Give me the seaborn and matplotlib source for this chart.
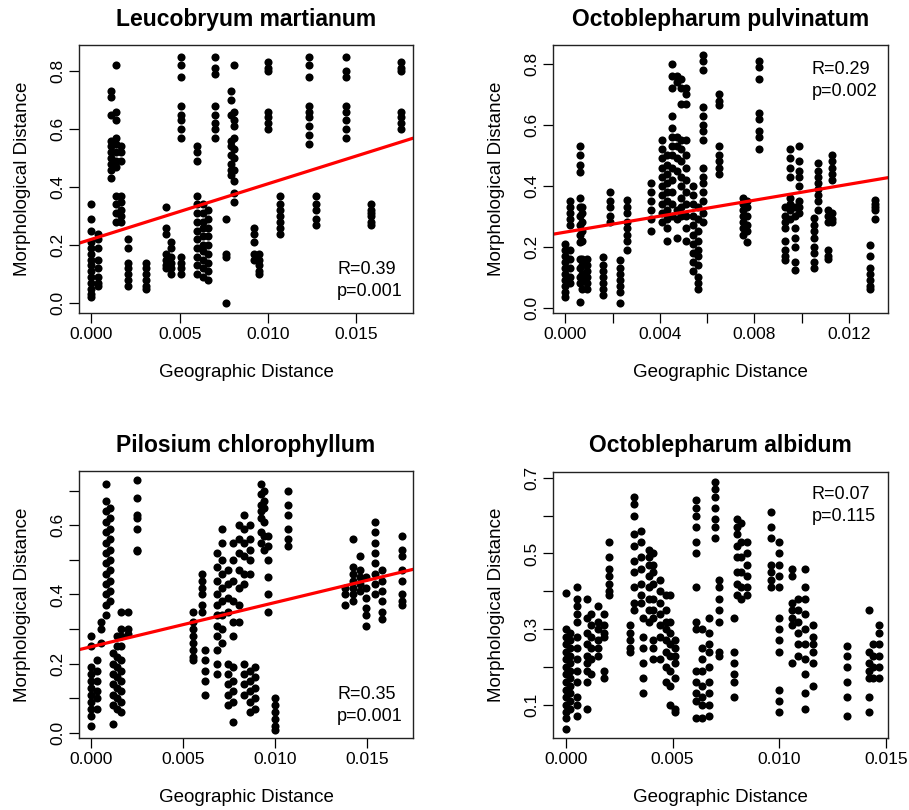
import pandas as pd
import matplotlib
matplotlib.use("Agg")
import matplotlib.pyplot as plt
import seaborn as sns

# Leucobryum martianum: geographic distance of each column, morphological distances in it
lm_geo = [0.0000, 0.0004, 0.0011, 0.0014, 0.0017, 0.0021, 0.0031, 0.0042, 0.0045,
          0.0051, 0.0060, 0.0063, 0.0066, 0.0070, 0.0076, 0.0079, 0.0081, 0.0092,
          0.0095, 0.0100, 0.0107, 0.0123, 0.0127, 0.0144, 0.0158, 0.0175]
lm_morph = [
    [0.34, 0.29, 0.25, 0.21, 0.19, 0.17, 0.15, 0.13, 0.11, 0.09, 0.07, 0.05, 0.03, 0.02],
    [0.24, 0.22, 0.19, 0.15, 0.12, 0.09, 0.07, 0.06],
    [0.73, 0.71, 0.65, 0.56, 0.54, 0.52, 0.50, 0.48, 0.46, 0.43],
    [0.82, 0.66, 0.63, 0.57, 0.55, 0.52, 0.49, 0.47, 0.37, 0.34, 0.31, 0.28],
    [0.54, 0.52, 0.49, 0.37, 0.35, 0.32, 0.30, 0.28],
    [0.22, 0.19, 0.14, 0.12, 0.10, 0.08, 0.06],
    [0.14, 0.12, 0.10, 0.08, 0.06, 0.05],
    [0.33, 0.26, 0.24, 0.17, 0.15, 0.13, 0.12],
    [0.21, 0.19, 0.16, 0.14, 0.12, 0.10],
    [0.85, 0.82, 0.78, 0.68, 0.65, 0.63, 0.60, 0.57, 0.16, 0.14, 0.12, 0.10],
    [0.54, 0.52, 0.49, 0.37, 0.34, 0.31, 0.28, 0.25, 0.22, 0.19, 0.16, 0.13, 0.10],
    [0.34, 0.31, 0.28, 0.26, 0.23, 0.20, 0.18, 0.15, 0.12, 0.09],
    [0.32, 0.29, 0.26, 0.23, 0.20, 0.17, 0.14, 0.11, 0.08],
    [0.85, 0.81, 0.79, 0.68, 0.65, 0.62, 0.60, 0.57],
    [0.29, 0.17, 0.16, 0.00],
    [0.73, 0.70, 0.65, 0.56, 0.54, 0.51, 0.48, 0.46, 0.44],
    [0.82, 0.66, 0.63, 0.61, 0.57, 0.53, 0.50, 0.46, 0.42, 0.38, 0.35],
    [0.26, 0.24, 0.21, 0.17, 0.15],
    [0.17, 0.15, 0.13, 0.11, 0.10],
    [0.83, 0.81, 0.80, 0.66, 0.64, 0.62, 0.60],
    [0.37, 0.34, 0.32, 0.30, 0.28, 0.26, 0.24],
    [0.85, 0.82, 0.78, 0.68, 0.66, 0.64, 0.61, 0.58, 0.55],
    [0.37, 0.34, 0.32, 0.29, 0.27],
    [0.85, 0.80, 0.78, 0.68, 0.66, 0.63, 0.60, 0.57],
    [0.34, 0.32, 0.31, 0.30, 0.28, 0.27],
    [0.83, 0.81, 0.80, 0.66, 0.64, 0.62, 0.60],
]

# Octoblepharum pulvinatum
op_geo = [0.0000, 0.0002, 0.0006, 0.0007, 0.0009, 0.0016, 0.0019, 0.0023, 0.0026,
          0.0036, 0.0041, 0.0043, 0.0045, 0.0047, 0.0049, 0.0051, 0.0054, 0.0056,
          0.0058, 0.0065, 0.0075, 0.0077, 0.0082, 0.0093, 0.0095, 0.0097, 0.0099,
          0.0105, 0.0107, 0.0111, 0.0113, 0.0129, 0.0131]
op_morph = [
    [0.21, 0.19, 0.17, 0.15, 0.13, 0.11, 0.09, 0.07, 0.05, 0.035],
    [0.35, 0.33, 0.31, 0.29, 0.27, 0.19, 0.16, 0.13, 0.10, 0.08],
    [0.53, 0.50, 0.47, 0.445, 0.36, 0.33, 0.30, 0.27, 0.24, 0.215, 0.16, 0.13, 0.10, 0.08, 0.02],
    [0.33, 0.31, 0.28, 0.25, 0.22, 0.16, 0.14, 0.11, 0.09, 0.06],
    [0.16, 0.14, 0.12, 0.10, 0.08, 0.06],
    [0.165, 0.14, 0.12, 0.10, 0.08, 0.06, 0.04],
    [0.38, 0.35, 0.33, 0.30, 0.28],
    [0.155, 0.13, 0.11, 0.09, 0.07, 0.05, 0.015],
    [0.355, 0.33, 0.31, 0.28, 0.26, 0.24, 0.22, 0.19],
    [0.41, 0.38, 0.35, 0.32, 0.29, 0.25],
    [0.55, 0.52, 0.49, 0.46, 0.43, 0.40, 0.37, 0.34, 0.31, 0.28],
    [0.50, 0.47, 0.44, 0.41, 0.38, 0.35, 0.32, 0.29, 0.26, 0.22],
    [0.80, 0.76, 0.72, 0.63, 0.59, 0.56, 0.53, 0.50, 0.46, 0.42, 0.38, 0.34, 0.30],
    [0.76, 0.74, 0.56, 0.53, 0.49, 0.45, 0.32, 0.29, 0.23],
    [0.75, 0.72, 0.67, 0.55, 0.52, 0.48, 0.43, 0.40, 0.36, 0.33, 0.30],
    [0.72, 0.70, 0.67, 0.55, 0.50, 0.46, 0.42, 0.38, 0.34, 0.30, 0.26, 0.22],
    [0.40, 0.37, 0.34, 0.30, 0.27, 0.24, 0.21, 0.18, 0.15, 0.12],
    [0.33, 0.29, 0.25, 0.22, 0.19, 0.17, 0.14, 0.10, 0.08, 0.06],
    [0.83, 0.81, 0.78, 0.66, 0.63, 0.60, 0.58, 0.55, 0.46, 0.43, 0.41, 0.38, 0.35, 0.31, 0.28],
    [0.70, 0.68, 0.665, 0.53, 0.50, 0.48, 0.46, 0.44],
    [0.36, 0.34, 0.32, 0.30, 0.28, 0.26, 0.24],
    [0.35, 0.33, 0.30, 0.27, 0.25, 0.215],
    [0.81, 0.79, 0.75, 0.64, 0.62, 0.58, 0.56, 0.52],
    [0.33, 0.30, 0.28, 0.26, 0.22, 0.19, 0.17, 0.155],
    [0.52, 0.49, 0.46, 0.43, 0.36, 0.34, 0.32, 0.29],
    [0.33, 0.30, 0.26, 0.23, 0.20, 0.15, 0.125],
    [0.53, 0.48, 0.45, 0.43, 0.40, 0.35, 0.33, 0.31],
    [0.295, 0.27, 0.25, 0.23, 0.20, 0.18, 0.15, 0.13],
    [0.475, 0.45, 0.43, 0.41, 0.39, 0.37, 0.35, 0.32],
    [0.32, 0.30, 0.28, 0.19, 0.17, 0.16],
    [0.50, 0.48, 0.46, 0.44, 0.42, 0.31, 0.29, 0.28],
    [0.205, 0.17, 0.13, 0.11, 0.09, 0.07, 0.06],
    [0.355, 0.34, 0.33, 0.32, 0.29],
]

# Pilosium chlorophyllum
pc_geo = [0.0000, 0.0003, 0.0005, 0.0008, 0.0010, 0.0012, 0.0014, 0.0016, 0.0020,
          0.0025, 0.0055, 0.0060, 0.0062, 0.0068, 0.0071, 0.0074, 0.0077, 0.0080,
          0.0083, 0.0086, 0.0089, 0.0092, 0.0094, 0.0096, 0.0100, 0.0107, 0.0138,
          0.0142, 0.0146, 0.0149, 0.0154, 0.0158, 0.0169]
pc_morph = [
    [0.28, 0.25, 0.19, 0.17, 0.15, 0.13, 0.11, 0.09, 0.07, 0.05, 0.02],
    [0.21, 0.18, 0.15, 0.12, 0.10, 0.07],
    [0.32, 0.30, 0.26],
    [0.72, 0.67, 0.64, 0.61, 0.58, 0.55, 0.52, 0.49, 0.46, 0.43, 0.40, 0.37, 0.34],
    [0.65, 0.62, 0.59, 0.56, 0.53, 0.50, 0.47, 0.44, 0.41, 0.38],
    [0.23, 0.20, 0.17, 0.14, 0.11, 0.08, 0.025],
    [0.28, 0.25, 0.22, 0.19, 0.16, 0.13, 0.10, 0.07],
    [0.35, 0.30, 0.28, 0.25, 0.21, 0.18, 0.15, 0.12, 0.09, 0.06],
    [0.35, 0.30, 0.285],
    [0.73, 0.68, 0.63, 0.62, 0.59, 0.53, 0.525],
    [0.35, 0.32, 0.30, 0.28, 0.26, 0.24, 0.22, 0.21],
    [0.46, 0.44, 0.42, 0.40, 0.37, 0.35],
    [0.24, 0.21, 0.18, 0.15, 0.11],
    [0.52, 0.48, 0.44, 0.40, 0.37, 0.34, 0.31, 0.28, 0.24, 0.20, 0.17],
    [0.59, 0.55, 0.50, 0.46, 0.42, 0.38, 0.34, 0.30, 0.26],
    [0.47, 0.43, 0.39, 0.35, 0.20, 0.17, 0.14, 0.11, 0.08],
    [0.55, 0.50, 0.44, 0.38, 0.32, 0.28, 0.19, 0.15, 0.12, 0.09, 0.03],
    [0.60, 0.56, 0.52, 0.47, 0.42, 0.37, 0.32],
    [0.63, 0.59, 0.55, 0.51, 0.46, 0.43, 0.20, 0.17, 0.14, 0.11],
    [0.60, 0.56, 0.53, 0.50, 0.46, 0.18, 0.15, 0.12, 0.09, 0.06],
    [0.19, 0.16, 0.13, 0.10, 0.07],
    [0.72, 0.69, 0.66, 0.64, 0.62, 0.58, 0.55],
    [0.70, 0.67, 0.65, 0.61, 0.57, 0.53],
    [0.57, 0.54, 0.50, 0.45, 0.40, 0.35],
    [0.10, 0.08, 0.06, 0.04, 0.02, 0.007],
    [0.70, 0.66, 0.63, 0.59, 0.56, 0.54],
    [0.42, 0.40, 0.37],
    [0.56, 0.48, 0.46, 0.44, 0.42, 0.40, 0.38],
    [0.51, 0.47, 0.45, 0.43, 0.41],
    [0.45, 0.42, 0.39, 0.36, 0.34, 0.31],
    [0.61, 0.58, 0.55, 0.52, 0.49, 0.46, 0.43, 0.40],
    [0.47, 0.44, 0.41, 0.38, 0.35, 0.33],
    [0.57, 0.53, 0.51, 0.47, 0.44, 0.40, 0.38, 0.37],
]

# Octoblepharum albidum
oa_geo = [0.0000, 0.0002, 0.0005, 0.0010, 0.0012, 0.0015, 0.0018, 0.0020, 0.0030,
          0.0032, 0.0035, 0.0036, 0.0039, 0.0041, 0.0044, 0.0047, 0.0049, 0.0051,
          0.0061, 0.0064, 0.0067, 0.0070, 0.0072, 0.0079, 0.0080, 0.0082, 0.0085,
          0.0096, 0.0100, 0.0106, 0.0109, 0.0112, 0.0116, 0.0132, 0.0142, 0.0144,
          0.0147]
oa_morph = [
    [0.395, 0.30, 0.28, 0.26, 0.24, 0.22, 0.20, 0.18, 0.16, 0.14, 0.12, 0.10, 0.08, 0.064, 0.037],
    [0.29, 0.27, 0.25, 0.23, 0.21, 0.19, 0.17, 0.15, 0.13, 0.11, 0.09],
    [0.41, 0.38, 0.36, 0.34, 0.32, 0.28, 0.25, 0.22, 0.19, 0.16, 0.12, 0.10, 0.07],
    [0.38, 0.33, 0.29, 0.26, 0.23, 0.21, 0.19, 0.16, 0.09],
    [0.34, 0.31, 0.28, 0.25, 0.22, 0.18],
    [0.36, 0.32, 0.30, 0.27, 0.25, 0.23],
    [0.34, 0.31, 0.29, 0.28, 0.19, 0.17],
    [0.53, 0.49, 0.46, 0.44, 0.42, 0.40, 0.39],
    [0.31, 0.29, 0.27, 0.25, 0.24],
    [0.65, 0.63, 0.60, 0.55, 0.52, 0.48, 0.45, 0.41, 0.37, 0.35],
    [0.56, 0.53, 0.49, 0.46, 0.42, 0.39, 0.37],
    [0.33, 0.28, 0.25, 0.21, 0.17, 0.13],
    [0.51, 0.49, 0.47, 0.44, 0.41, 0.38, 0.35, 0.32],
    [0.50, 0.47, 0.45, 0.42, 0.38, 0.35, 0.33, 0.27, 0.25, 0.22],
    [0.43, 0.40, 0.37, 0.34, 0.31, 0.28, 0.22],
    [0.39, 0.35, 0.32, 0.30, 0.27, 0.24, 0.20, 0.16],
    [0.39, 0.32, 0.29, 0.26, 0.23, 0.19, 0.15, 0.10],
    [0.27, 0.25, 0.23, 0.21, 0.17, 0.09, 0.08],
    [0.64, 0.62, 0.60, 0.57, 0.53, 0.50, 0.41, 0.32, 0.30, 0.19, 0.16, 0.13, 0.11, 0.065],
    [0.30, 0.25, 0.22, 0.19, 0.15, 0.12, 0.10, 0.065],
    [0.33, 0.29, 0.26, 0.24, 0.20, 0.16, 0.13, 0.10, 0.07],
    [0.69, 0.67, 0.65, 0.62, 0.59, 0.57, 0.54],
    [0.43, 0.41, 0.38, 0.35, 0.32, 0.24, 0.23],
    [0.33, 0.24, 0.21, 0.18, 0.16, 0.12],
    [0.59, 0.57, 0.55, 0.52, 0.49, 0.45, 0.42, 0.39],
    [0.58, 0.53, 0.49, 0.45, 0.41, 0.38],
    [0.53, 0.50, 0.47, 0.44, 0.41, 0.39],
    [0.61, 0.57, 0.54, 0.47, 0.45, 0.43, 0.41],
    [0.53, 0.50, 0.47, 0.44, 0.41, 0.33, 0.30, 0.27, 0.24, 0.14, 0.11, 0.08],
    [0.46, 0.44, 0.37, 0.35, 0.33, 0.31, 0.21],
    [0.38, 0.35, 0.32, 0.29, 0.26, 0.23],
    [0.46, 0.41, 0.38, 0.34, 0.30, 0.26, 0.22, 0.18, 0.13, 0.09],
    [0.31, 0.28, 0.26, 0.24, 0.21, 0.15],
    [0.255, 0.23, 0.20, 0.16, 0.12, 0.07],
    [0.35, 0.24, 0.21, 0.19, 0.17, 0.12, 0.08],
    [0.26, 0.23, 0.20, 0.17],
    [0.31, 0.29, 0.26, 0.23, 0.20, 0.17],
]

titles = ["Leucobryum martianum", "Octoblepharum pulvinatum",
          "Pilosium chlorophyllum", "Octoblepharum albidum"]
r_labels = ["R=0.39", "R=0.29", "R=0.35", "R=0.07"]
p_labels = ["p=0.001", "p=0.002", "p=0.001", "p=0.115"]
# fitted lines (intercept, slope) as drawn in the original, None = no line
fits = [(0.220, 19.15), (0.248, 13.1), (0.249, 12.8), None]


def to_frame(geo, morph):
    rows = [(g, m) for g, col in zip(geo, morph) for m in col]
    return pd.DataFrame(rows, columns=["geo", "morph"])


frames = [to_frame(lm_geo, lm_morph), to_frame(op_geo, op_morph),
          to_frame(pc_geo, pc_morph), to_frame(oa_geo, oa_morph)]

sns.set_theme(style="ticks")
plt.rcParams["font.family"] = ["Liberation Sans", "DejaVu Sans"]
plt.rcParams["text.color"] = "black"
plt.rcParams["axes.labelcolor"] = "black"
plt.rcParams["xtick.color"] = "black"
plt.rcParams["ytick.color"] = "black"

fig = plt.figure(figsize=(9.09, 8.10), dpi=100)
boxes = [[0.0869, 0.6136, 0.3674, 0.3309], [0.6084, 0.6136, 0.3685, 0.3309],
         [0.0869, 0.0889, 0.3674, 0.3296], [0.6084, 0.0893, 0.3685, 0.3284]]
xlims = [(-0.0007, 0.0182), (-0.000525, 0.01365), (-0.00067, 0.01747), (-0.0006, 0.0151)]
ylims = [(-0.034, 0.89), (-0.0176, 0.8626), (-0.015, 0.757), (0.013, 0.716)]
xticks = [[0, 0.005, 0.010, 0.015],
          [0, 0.002, 0.004, 0.006, 0.008, 0.010, 0.012],
          [0, 0.005, 0.010, 0.015],
          [0, 0.005, 0.010, 0.015]]
xticklabels = [["0.000", "0.005", "0.010", "0.015"],
               ["0.000", "", "0.004", "", "0.008", "", "0.012"],
               ["0.000", "0.005", "0.010", "0.015"],
               ["0.000", "0.005", "0.010", "0.015"]]
yticks = [[0, 0.2, 0.4, 0.6, 0.8], [0, 0.2, 0.4, 0.6, 0.8],
          [0, 0.1, 0.2, 0.3, 0.4, 0.5, 0.6, 0.7],
          [0.1, 0.2, 0.3, 0.4, 0.5, 0.6, 0.7]]
yticklabels = [["0.0", "0.2", "0.4", "0.6", "0.8"], ["0.0", "0.2", "0.4", "0.6", "0.8"],
               ["0.0", "", "0.2", "", "0.4", "", "0.6", ""],
               ["0.1", "", "0.3", "", "0.5", "", "0.7"]]
text_y = [(0.163, 0.079), (0.909, 0.826), (0.162, 0.081), (0.916, 0.832)]

for i in range(4):
    ax = fig.add_axes(boxes[i])
    sns.scatterplot(data=frames[i], x="geo", y="morph", ax=ax, color="black",
                    s=34, linewidth=0, legend=False)
    if fits[i] is not None:
        b, m = fits[i]
        ax.axline((0, b), slope=m, color="red", linewidth=2.3)
    ax.set_xlim(xlims[i])
    ax.set_ylim(ylims[i])
    ax.set_xticks(xticks[i])
    ax.set_xticklabels(xticklabels[i])
    ax.set_yticks(yticks[i])
    ax.set_yticklabels(yticklabels[i], rotation=90, va="center")
    ax.tick_params(length=7, width=0.9, labelsize=12.5, pad=3, color="black")
    for sp in ax.spines.values():
        sp.set_linewidth(1.0)
        sp.set_color("#222222")
    ax.set_xlabel("Geographic Distance", fontsize=13.5, labelpad=16)
    ax.set_ylabel("Morphological Distance", fontsize=13.5, labelpad=14)
    ax.set_title(titles[i], fontsize=16.5, fontweight="bold", pad=14)
    ax.text(0.773, text_y[i][0], r_labels[i], transform=ax.transAxes,
            fontsize=13, va="center", ha="left")
    ax.text(0.773, text_y[i][1], p_labels[i], transform=ax.transAxes,
            fontsize=13, va="center", ha="left")

fig.savefig("out.png", dpi=100)
